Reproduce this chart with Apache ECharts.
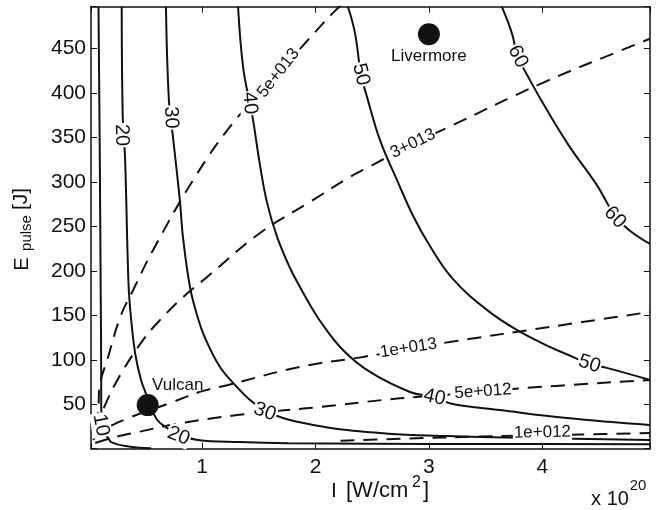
<!DOCTYPE html>
<html><head><meta charset="utf-8">
<script src="https://cdn.jsdelivr.net/npm/echarts@6/dist/echarts.min.js"></script>
<style>html,body{margin:0;padding:0;background:#fff}#c{width:664px;height:510px}</style>
</head><body><div id="c"></div>
<script>
// Axis ranges (I in units of 1e20 W/cm^2, E_pulse in J)
const xRange = [0.02, 4.95];
const yRange = [0, 497];

// Solid contour lines : [I, E]
const contour10 = [[0.086,497],[0.097,336],[0.106,168],[0.110,77],[0.110,49],[0.115,34],[0.128,19],[0.172,12],[0.198,7.5],[0.322,3],[0.55,0.4]];
const contour20 = [[0.291,497],[0.300,373],[0.320,328],[0.344,212.2],[0.355,175.1],[0.379,139.1],[0.412,105.4],[0.461,77.3],[0.514,58.2],[0.523,49.1],[0.567,40.1],[0.629,28.9],[0.787,16.5],[0.963,9.8],[1.335,7.5],[1.758,6.2],[2.5,5.6],[3.5,5.3],[4.95,5.0]];
const contour30 = [[0.681,497],[0.707,392.1],[0.743,350.5],[0.805,277.4],[0.831,238.0],[0.893,181.8],[0.955,150.3],[1.026,124.5],[1.158,91.9],[1.307,69.4],[1.422,54.8],[1.554,43.0],[1.713,34.5],[1.978,26.7],[2.278,21.0],[2.568,17.7],[2.859,15.4],[3.159,14.3],[3.449,13.2],[4.154,11.5],[4.95,9.8]];
const contour40 = [[1.317,497],[1.361,429.4],[1.42,388.5],[1.449,369.7],[1.510,319.1],[1.573,276.4],[1.661,238.1],[1.775,203.2],[1.863,181.8],[1.952,161.6],[2.040,143.6],[2.242,111.0],[2.480,86.3],[2.833,63.8],[3.049,57.6],[3.211,50.3],[3.626,43.5],[4.216,34.5],[4.95,26.7]];
const contour50 = [[2.286,497],[2.348,467.6],[2.401,420.8],[2.454,395.6],[2.568,347.3],[2.718,302.3],[2.86,262],[3.009,228],[3.211,191],[3.511,156.1],[3.775,133.6],[4.066,114.5],[4.269,103.3],[4.416,95.2],[4.568,90.9],[4.95,77.3]];
const contour60 = [[3.643,497],[3.731,467.6],[3.785,441.0],[3.890,414.7],[4.040,381.0],[4.242,339.4],[4.480,296.7],[4.641,262],[4.773,245.0],[4.95,230.2]];

// Dashed contour lines : [I, E]
const dashed5e13 = [[0.07,25],[0.084,43.5],[0.101,73.9],[0.163,99.8],[0.278,148.1],[0.392,178.5],[0.568,223.5],[0.938,305.6],[1.273,366.4],[1.673,422.5],[1.846,447.2],[2.154,490.1],[2.24,500]];
const dashed3e13 = [[0.066,21],[0.145,49.2],[0.278,82.9],[0.48,122.3],[0.63,144.8],[0.833,170.6],[1.044,193.1],[1.511,242.6],[1.952,277.5],[2.304,305.6],[2.454,315.7],[2.86,343],[3.159,360.7],[4.004,411.4],[4.815,454.1],[4.95,461]];
const dashed1e13 = [[0.04,9.8],[0.101,18.8],[0.330,33.4],[0.718,51.4],[1.009,65.0],[1.229,71.7],[1.863,92.0],[2.419,103.2],[2.82,112],[3.185,120.0],[4.066,136.9],[4.95,153.8]];
const dashed5e12 = [[0.057,6.4],[0.198,12.0],[0.436,18.8],[0.815,28.8],[1.308,37.8],[1.749,43.5],[2.040,46.9],[2.595,54.8],[2.894,58.2],[3.477,63.8],[3.819,68.0],[4.95,77.3]];
const dashed1e12 = [[2.22,9.0],[2.833,11.5],[3.45,13.7],[4.332,16.0],[4.95,17.7]];

// Contour labels
const labelTexts  = ['10','20','20','30','30','40','40','50','50','60','60','5e+013','3+013','1e+013','5e+012','1e+012'];
const labelX      = [0.108,0.29,0.792,0.725,1.554,1.42,3.049,2.401,4.416,3.785,4.641,1.673,2.86,2.82,3.477,4.001];
const labelY      = [26.6,352.6,14.3,372.4,41.5,388.5,57.6,420.8,95.2,441.0,260.1,422.5,343,113.2,64.3,18.2];
const labelAngle  = [-80,-88,-22,-88,-20,-85,-12,-76,-18,-64,-47,52,26,9,4,1];

// Facilities
const siteNames = ['Vulcan','Livermore'];
const siteI = [0.52, 3.0];
const siteE = [49, 466];

const FONT = 'Liberation Sans, Arial, Helvetica, sans-serif';
const INK = '#111';

const chart = echarts.init(document.getElementById('c'), null, {renderer:'canvas'});

function solid(d){return {type:'line',data:d,showSymbol:false,smooth:0.4,silent:true,z:2,
  lineStyle:{color:INK,width:2},xAxisIndex:0,yAxisIndex:0};}
function dashed(d){return {type:'line',data:d,showSymbol:false,smooth:0.4,silent:true,z:2,
  lineStyle:{color:INK,width:2,type:[14,9]},xAxisIndex:0,yAxisIndex:0};}

const labelData = labelTexts.map((t,i)=>{
  const big = /^\d+$/.test(t);
  return {value:[labelX[i],labelY[i]], label:{show:true, formatter:t, rotate:labelAngle[i],
    fontSize: big?20:17}};
});

const axisCommon = {
  type:'value', splitLine:{show:false},
  axisLine:{show:true,onZero:false,lineStyle:{color:INK,width:1.5}},
  axisTick:{show:true,inside:true,length:6,lineStyle:{color:INK,width:1}},
};

const option = {
  animation:false,
  backgroundColor:'#fff',
  grid:{left:91,right:14,top:6.7,bottom:61.3,containLabel:false},
  xAxis:[
    Object.assign({},axisCommon,{min:xRange[0],max:xRange[1],position:'bottom',
      axisLabel:{show:true,fontSize:21,color:INK,fontFamily:FONT,margin:8,
        formatter:v=>Math.abs(v-Math.round(v))<1e-6?String(Math.round(v)):''}}),
    Object.assign({},axisCommon,{min:xRange[0],max:xRange[1],position:'top',axisLabel:{show:false}})
  ],
  yAxis:[
    Object.assign({},axisCommon,{min:yRange[0],max:yRange[1],interval:50,position:'left',
      axisLabel:{show:true,fontSize:21,color:INK,fontFamily:FONT,margin:5,
        formatter:v=>(v>0&&v%50===0)?String(v):''}}),
    Object.assign({},axisCommon,{min:yRange[0],max:yRange[1],interval:50,position:'right',axisLabel:{show:false}})
  ],
  series:[
    solid(contour10),solid(contour20),solid(contour30),solid(contour40),solid(contour50),solid(contour60),
    dashed(dashed5e13),dashed(dashed3e13),dashed(dashed1e13),dashed(dashed5e12),dashed(dashed1e12),
    {type:'scatter',data:labelData,symbolSize:1,itemStyle:{color:'rgba(0,0,0,0)',opacity:1},silent:true,z:5,
      label:{show:true,position:'inside',color:INK,opacity:1,fontFamily:FONT,backgroundColor:'#fff',padding:[0,1]}},
    {type:'scatter',z:6,silent:true,symbolSize:22,itemStyle:{color:INK,opacity:1},
      data:siteNames.map((n,i)=>({value:[siteI[i],siteE[i]],name:n,
        label:{show:true,formatter:n,position:'inside',offset: i===0?[30,-20]:[0,22],
          color:INK,opacity:1,fontSize:17,fontFamily:FONT}}))}
  ],
  graphic:[
    {type:'text',x:22,y:264,rotation:Math.PI/2,style:{text:'E',font:'20px '+FONT,fill:INK,textAlign:'center',textVerticalAlign:'middle'}},
    {type:'text',x:27,y:233,rotation:Math.PI/2,style:{text:'pulse',font:'15px '+FONT,fill:INK,textAlign:'center',textVerticalAlign:'middle'}},
    {type:'text',x:21,y:199,rotation:Math.PI/2,style:{text:'[J]',font:'21px '+FONT,fill:INK,textAlign:'center',textVerticalAlign:'middle'}},
    {type:'text',x:331,y:491,style:{text:'I',font:'21px '+FONT,fill:INK,textAlign:'left',textVerticalAlign:'middle'}},
    {type:'text',x:346,y:491,style:{text:'[W/cm',font:'22px '+FONT,fill:INK,textAlign:'left',textVerticalAlign:'middle'}},
    {type:'text',x:412,y:483,style:{text:'2',font:'16px '+FONT,fill:INK,textAlign:'left',textVerticalAlign:'middle'}},
    {type:'text',x:423,y:491,style:{text:']',font:'22px '+FONT,fill:INK,textAlign:'left',textVerticalAlign:'middle'}},
    {type:'text',x:610,y:499,style:{text:'x 10',font:'20px '+FONT,fill:INK,textAlign:'center',textVerticalAlign:'middle'}},
    {type:'text',x:638,y:486,style:{text:'20',font:'15px '+FONT,fill:INK,textAlign:'center',textVerticalAlign:'middle'}}
  ]
};
chart.setOption(option);
</script></body></html>
